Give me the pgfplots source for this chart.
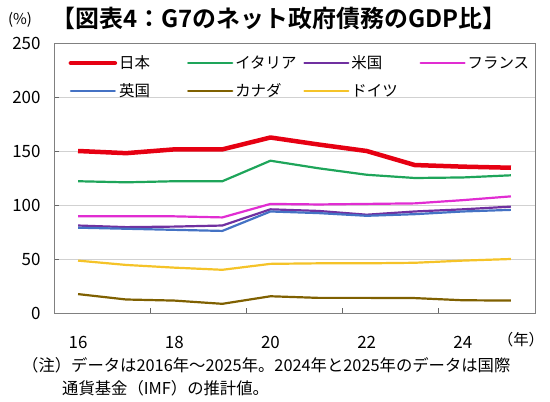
\documentclass[border=0pt]{standalone}
\usepackage{fontspec}
\setmainfont{Noto Sans CJK JP}[BoldFont={Noto Sans CJK JP Bold}]
\usepackage{pgfplots}
\pgfplotsset{compat=1.18}
\definecolor{cjp}{RGB}{230,0,18}
\definecolor{cit}{RGB}{30,165,90}
\definecolor{cus}{RGB}{112,48,160}
\definecolor{cfr}{RGB}{225,45,210}
\definecolor{cuk}{RGB}{68,114,196}
\definecolor{cca}{RGB}{127,96,0}
\definecolor{cde}{RGB}{245,195,40}
\begin{document}
\begin{tikzpicture}
\path[use as bounding box] (0bp,0bp) rectangle (550bp,402bp);
\begin{axis}[
  at={(54bp,89bp)}, anchor=south west,
  scale only axis, width=481bp, height=270bp,
  xmin=2015.5, xmax=2025.5, ymin=0, ymax=250,
  axis line style={draw=black!50, line width=0.9bp},
  ytick={0,50,...,250}, ymajorgrids,
  grid style={draw=black!18, line width=0.9bp},
  xtick={2017.5,2019.5,2021.5,2023.5}, xticklabels={},
  extra x ticks={2016,2018,2020,2022,2024},
  extra x tick labels={16,18,20,22,24},
  extra x tick style={major tick length=0pt, grid=none},
  tick align=inside, major tick length=5bp,
  xtick pos=bottom, ytick pos=left,
  tick style={draw=black!60, line width=0.8bp},
  ticklabel style={font=\fontsize{17}{20}\selectfont},
  xticklabel style={yshift=-20bp},
  yticklabel style={xshift=-10bp},
  /pgf/number format/assume math mode=true,
  legend columns=4,
  legend style={at={(rel axis cs:0.03,0.96)}, anchor=north west,
    draw=none, fill=none, inner sep=0pt,
    font=\fontsize{15.5}{18}\selectfont, row sep=9bp,
    /tikz/every even column/.style={column sep=0bp}},
  legend image code/.code={\draw[#1, line cap=round] (0bp,0bp) -- (44bp,0bp);},
  every axis plot/.append style={line width=2.2bp, mark=none, line join=round},
]
\addplot[cjp, line width=4.5bp] coordinates {(2016,150) (2017,148) (2018,151.5) (2019,151.5) (2020,162.5) (2021,156) (2022,150) (2023,137) (2024,135.5) (2025,134.5)};
\addlegendentry{\makebox[66bp][l]{日本}}
\addplot[cit] coordinates {(2016,122) (2017,121) (2018,122) (2019,122) (2020,141) (2021,134) (2022,128) (2023,125) (2024,125.5) (2025,127.5)};
\addlegendentry{\makebox[66bp][l]{イタリア}}
\addplot[cus] coordinates {(2016,81) (2017,79.5) (2018,80) (2019,81) (2020,96) (2021,94.5) (2022,91) (2023,94) (2024,96) (2025,98.5)};
\addlegendentry{\makebox[66bp][l]{米国}}
\addplot[cfr] coordinates {(2016,89.5) (2017,89.5) (2018,89.5) (2019,88.5) (2020,101) (2021,100.5) (2022,101) (2023,101.5) (2024,104.5) (2025,108)};
\addlegendentry{\makebox[66bp][l]{フランス}}
\addplot[cuk] coordinates {(2016,79) (2017,78) (2018,77) (2019,76) (2020,94) (2021,92.5) (2022,90) (2023,91.5) (2024,94) (2025,95.5)};
\addlegendentry{\makebox[66bp][l]{英国}}
\addplot[cca] coordinates {(2016,17.5) (2017,12.5) (2018,11.5) (2019,8.5) (2020,15.5) (2021,14) (2022,14) (2023,13.8) (2024,11.8) (2025,11.5)};
\addlegendentry{\makebox[66bp][l]{カナダ}}
\addplot[cde] coordinates {(2016,48.5) (2017,44.5) (2018,42) (2019,40) (2020,45.5) (2021,46) (2022,46) (2023,46.5) (2024,48.5) (2025,50)};
\addlegendentry{\makebox[66bp][l]{ドイツ}}
\end{axis}
\node[font=\bfseries\fontsize{24}{28}\selectfont] at (279bp,384bp) {【図表4：G7のネット政府債務のGDP比】};
\node[font=\fontsize{15}{18}\selectfont] at (20bp,382bp) {(\%)};
\node[font=\fontsize{15.5}{18}\selectfont] at (521bp,62bp) {（年）};
\node[font=\fontsize{16.4}{18}\selectfont, anchor=west, inner sep=0pt] at (22bp,37bp) {（注）データは2016年～2025年。2024年と2025年のデータは国際};
\node[font=\fontsize{16.4}{18}\selectfont, anchor=west, inner sep=0pt] at (62bp,14bp) {通貨基金（IMF）の推計値。};
\end{tikzpicture}
\end{document}
